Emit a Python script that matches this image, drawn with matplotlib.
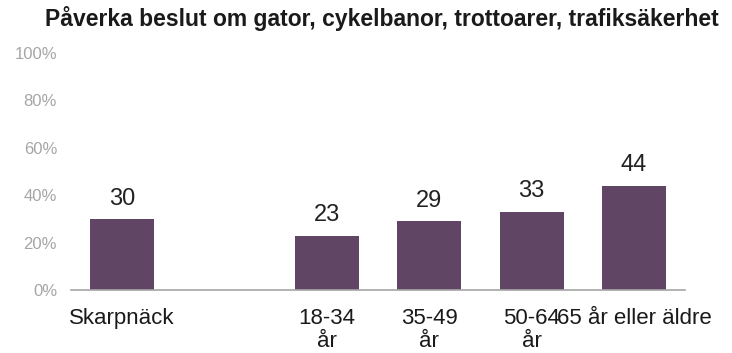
import matplotlib

matplotlib.use("Agg")
import matplotlib.pyplot as plt
import numpy as np

plt.rcParams["font.family"] = ["Liberation Sans", "DejaVu Sans"]

TITLE = "Påverka beslut om gator, cykelbanor, trottoarer, trafiksäkerhet"
categories = ["Skarpnäck", "", "18-34\når", "35-49\når", "50-64\når", "65 år eller äldre"]
values = [30, None, 23, 29, 33, 44]
y_ticks = [0, 20, 40, 60, 80, 100]

BAR = "#604664"
GREY = "#a6a6a6"


def main() -> None:
    fig = plt.figure(figsize=(7.32, 3.53), dpi=100)
    ax = fig.add_axes([0.097, 0.178, 0.839, 0.672])

    x = np.arange(len(categories))
    for xi, v in zip(x, values):
        if v is None:
            continue
        ax.bar(xi, v, width=0.625, color=BAR, zorder=2)
        ax.text(xi, v + 4, f"{v}", ha="center", va="bottom", fontsize=17, color="#222222")

    ax.set_xlim(-0.5, len(categories) - 0.5)
    ax.set_ylim(0, 100)
    ax.set_yticks(y_ticks, [f"{t}%" for t in y_ticks])
    ax.set_xticks(x, categories)
    ax.tick_params(axis="y", length=0, labelsize=12, labelcolor=GREY, pad=10)
    ax.tick_params(axis="x", length=0, labelsize=16, labelcolor="#1a1a1a", pad=13)
    for lbl in ax.get_xticklabels():
        lbl.set_linespacing(1.1)

    for side in ["top", "right", "left"]:
        ax.spines[side].set_visible(False)
    ax.spines["bottom"].set_color(GREY)
    ax.spines["bottom"].set_linewidth(1.2)

    fig.text(0.522, 0.948, TITLE, ha="center", va="center", fontsize=16.5,
             fontweight="bold", color="#1a1a1a")

    fig.savefig("out.png", dpi=100)
    plt.close(fig)


if __name__ == "__main__":
    main()
